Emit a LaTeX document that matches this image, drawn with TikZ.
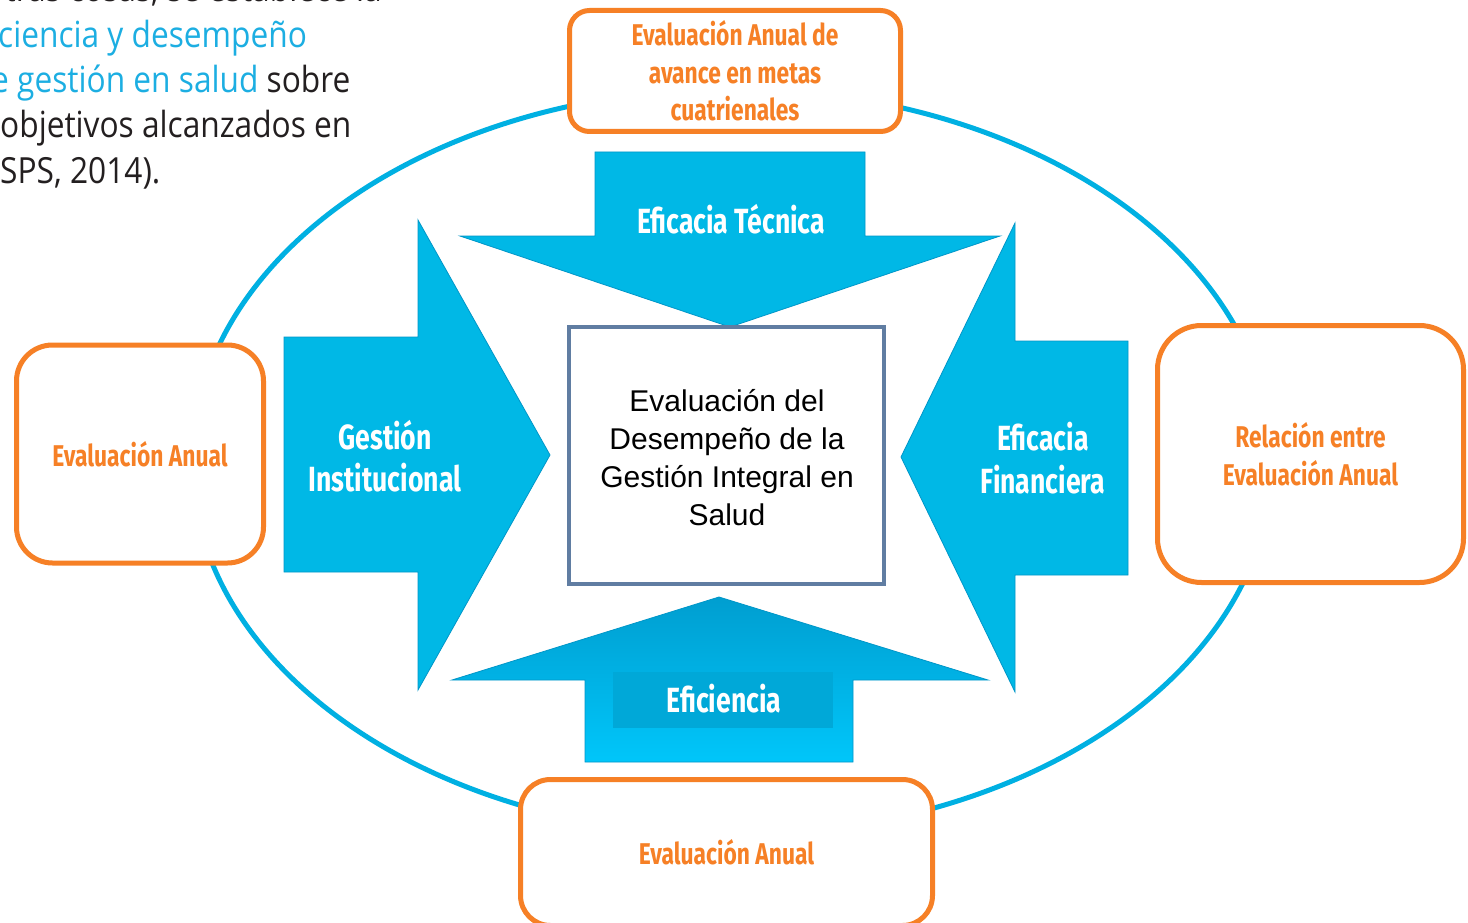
\documentclass[tikz,border=0pt]{standalone}
\usepackage{fontspec}
\setmainfont{Liberation Sans}
\newfontfamily\condfont[FakeStretch=0.76]{Fira Sans}
\newfontfamily\parafont[FakeStretch=0.88]{Open Sans}
\definecolor{elipse}{RGB}{0,176,226}
\definecolor{naranja}{RGB}{246,128,38}
\definecolor{flecha}{RGB}{0,184,230}
\definecolor{flechaosc}{RGB}{0,158,208}
\definecolor{flechaclara}{RGB}{0,198,250}
\definecolor{fondoet}{RGB}{0,168,216}
\definecolor{bordeflecha}{RGB}{0,150,200}
\definecolor{pizarra}{RGB}{96,125,162}
\definecolor{celeste}{RGB}{28,174,226}
\definecolor{tinta}{RGB}{35,31,32}

\begin{document}
\begin{tikzpicture}[x=1pt,y=-1pt,
    caja/.style={draw=naranja,line width=5pt,fill=white,text=naranja,align=center,
      font=\condfont\bfseries\fontsize{30}{37.5}\selectfont},
    relleno/.style={fill=flecha,draw=bordeflecha,line width=0.8pt},
    rotulo/.style={text=white,align=center,font=\condfont\bfseries\fontsize{35}{42.5}\selectfont},
    parrafo/.style={anchor=base west,inner sep=0pt,text=tinta,font=\parafont\fontsize{36}{45}\selectfont}]
  \useasboundingbox (0,0) rectangle (1468,923);
  \fill[white] (0,0) rectangle (1468,923);

  \node[parrafo,anchor=base east] (p1) at (382,2) {tras cosas, se establece la};
  \node[parrafo,text=celeste] (p2) at (-2,48) {ciencia y desempeño};
  \node[parrafo] (p3) at (-9,93) {\textcolor{celeste}{e gestión en salud} sobre};
  \node[parrafo] (p4) at (0,138) {objetivos alcanzados en};
  \node[parrafo] (p5) at (0,183) {SPS, 2014).};

  \draw[elipse,line width=5pt] (732,462) ellipse [x radius=540pt, y radius=373pt];

  \node[caja,rounded corners=20pt,minimum width=331pt,minimum height=121pt] (metas) at (735,71)
    {Evaluación Anual de\\avance en metas\\cuatrienales};
  \node[caja,rounded corners=36pt,minimum width=247pt,minimum height=218pt] (izq) at (140,454)
    {Evaluación Anual};
  \node[caja,rounded corners=44pt,minimum width=306pt,minimum height=257pt] (der) at (1310.5,454)
    {Relación entre\\Evaluación Anual};
  \node[caja,rounded corners=30pt,minimum width=412pt,minimum height=146pt] (inf) at (726.5,852.5)
    {Evaluación Anual};

  \filldraw[relleno] (595,152) -- (865,152) -- (865,236) -- (1000,236) -- (730,327)
    -- (460,236) -- (595,236) -- cycle;
  \filldraw[relleno] (284,337) -- (418,337) -- (418,220) -- (550,455) -- (418,690)
    -- (418,572) -- (284,572) -- cycle;
  \filldraw[relleno] (1128,341) -- (1015,341) -- (1015,223) -- (901,457) -- (1015,692)
    -- (1015,575) -- (1128,575) -- cycle;
  \shadedraw[top color=flechaosc,bottom color=flechaclara,draw=bordeflecha,line width=0.8pt]
    (585,762) -- (585,680) -- (452,680) -- (719,597) -- (988,680) -- (853,680) -- (853,762) -- cycle;
  \fill[fondoet] (613,672) rectangle (833,728);

  \node[rotulo] (tecnica) at (731,219) {Eficacia Técnica};
  \node[rotulo] (gestion) at (385,456) {Gestión\\Institucional};
  \node[rotulo] (financiera) at (1043,458) {Eficacia\\Financiera};
  \node[rotulo] (eficiencia) at (724,699) {Eficiencia};

  \node[draw=pizarra,line width=4pt,fill=white,minimum width=315pt,minimum height=257pt,
    align=center,font=\fontsize{30}{38}\selectfont] (centro) at (726.5,455.5) {};
  \node[align=center,font=\fontsize{30}{38}\selectfont] (lema) at (727,458)
    {Evaluación del\\Desempeño de la\\Gestión Integral en\\Salud};
\end{tikzpicture}
\end{document}
